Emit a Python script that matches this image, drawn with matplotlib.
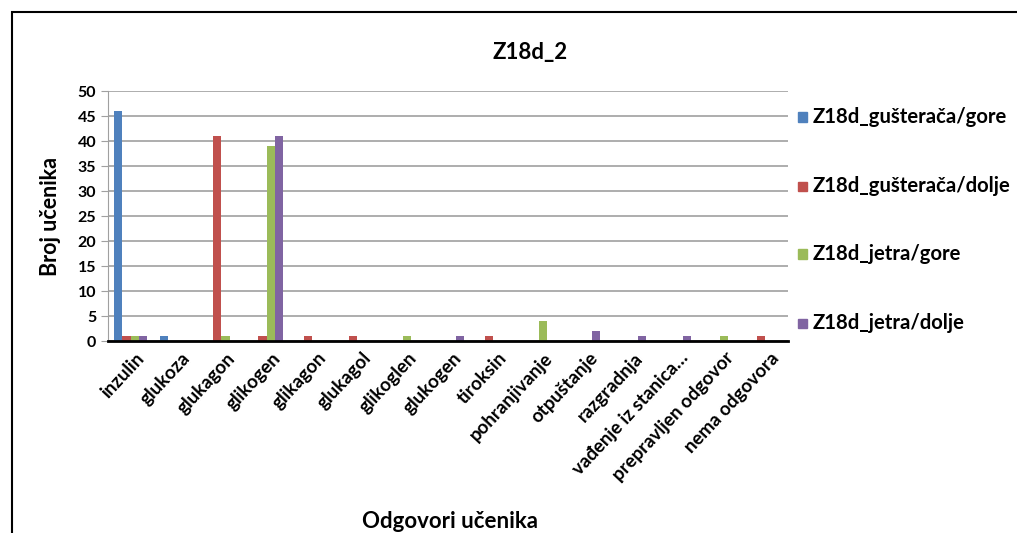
import numpy as np
import matplotlib.pyplot as plt
from matplotlib.patches import Rectangle

plt.rcParams['font.family'] = ['Lato', 'DejaVu Sans']

# kategorije (odgovori) i vrijednosti serija
odgovori = ["inzulin", "glukoza", "glukagon", "glikogen", "glikagon", "glukagol",
            "glikoglen", "glukogen", "tiroksin", "pohranjivanje", "otpuštanje",
            "razgradnja", "vađenje iz stanica…", "prepravljen odgovor", "nema odgovora"]
serije = ["Z18d_gušterača/gore", "Z18d_gušterača/dolje", "Z18d_jetra/gore", "Z18d_jetra/dolje"]
gusteraca_gore = [46, 1, 0, 0, 0, 0, 0, 0, 0, 0, 0, 0, 0, 0, 0]
gusteraca_dolje = [1, 0, 41, 1, 1, 1, 0, 0, 1, 0, 0, 0, 0, 0, 1]
jetra_gore = [1, 0, 1, 39, 0, 0, 1, 0, 0, 4, 0, 0, 0, 1, 0]
jetra_dolje = [1, 0, 0, 41, 0, 0, 0, 1, 0, 0, 2, 1, 1, 0, 0]
boje = ["#4F81BD", "#C0504D", "#9BBB59", "#8064A2"]

fig = plt.figure(figsize=(10.17, 5.33), dpi=100)
ax = fig.add_axes([0.1062, 0.3602, 0.6686, 0.4690])

# okvir grafikona
fig.patches.append(Rectangle((12 / 1017, -0.1), 1.2, 1 - 12 / 533 + 0.1,
                             transform=fig.transFigure, fill=False,
                             edgecolor="black", linewidth=1.5))

x = np.arange(len(odgovori))
w = 1 / 5.5
svi = [gusteraca_gore, gusteraca_dolje, jetra_gore, jetra_dolje]
for i, vals in enumerate(svi):
    ax.bar(x + (i - 1.5) * w, vals, width=w, color=boje[i], label=serije[i], zorder=3)

ax.set_xlim(-0.5, len(odgovori) - 0.5)
ax.set_ylim(0, 50)
ax.set_yticks(range(0, 51, 5))
ax.yaxis.grid(True, color="#A0A0A0", linewidth=1.2, zorder=0)
for s in ["top", "right"]:
    ax.spines[s].set_visible(False)
ax.spines["left"].set_color("#A0A0A0")
ax.spines["bottom"].set_color("black")
ax.spines["bottom"].set_linewidth(2)
ax.spines["bottom"].set_zorder(4)
ax.tick_params(axis="y", length=5, color="#A0A0A0", labelsize=11.5)
ax.tick_params(axis="x", length=0, pad=6)
ax.set_xticks(x + 0.1)
ax.set_xticklabels(odgovori, rotation=47, ha="right", rotation_mode="anchor",
                   fontsize=13.5, fontweight="bold")
for t in ax.get_yticklabels():
    t.set_fontweight("bold")

ax.set_ylabel("Broj učenika", fontsize=15.5, fontweight="bold", labelpad=12)
fig.text(450 / 1017, 1 - 521 / 533, "Odgovori učenika", fontsize=16, fontweight="bold",
         ha="center", va="center")
fig.text(530 / 1017, 1 - 52 / 533, "Z18d_2", fontsize=16, fontweight="bold", ha="center", va="center")

# legenda
leg_y = [117, 186, 254, 323]
for i, ser in enumerate(serije):
    yy = 1 - leg_y[i] / 533
    fig.patches.append(Rectangle((798 / 1017, yy - 4.5 / 533), 9 / 1017, 9 / 533,
                                 transform=fig.transFigure, color=boje[i]))
    fig.text(813 / 1017, yy, ser, fontsize=14.6, fontweight="bold", ha="left", va="center")

plt.savefig("out.png", dpi=100)
